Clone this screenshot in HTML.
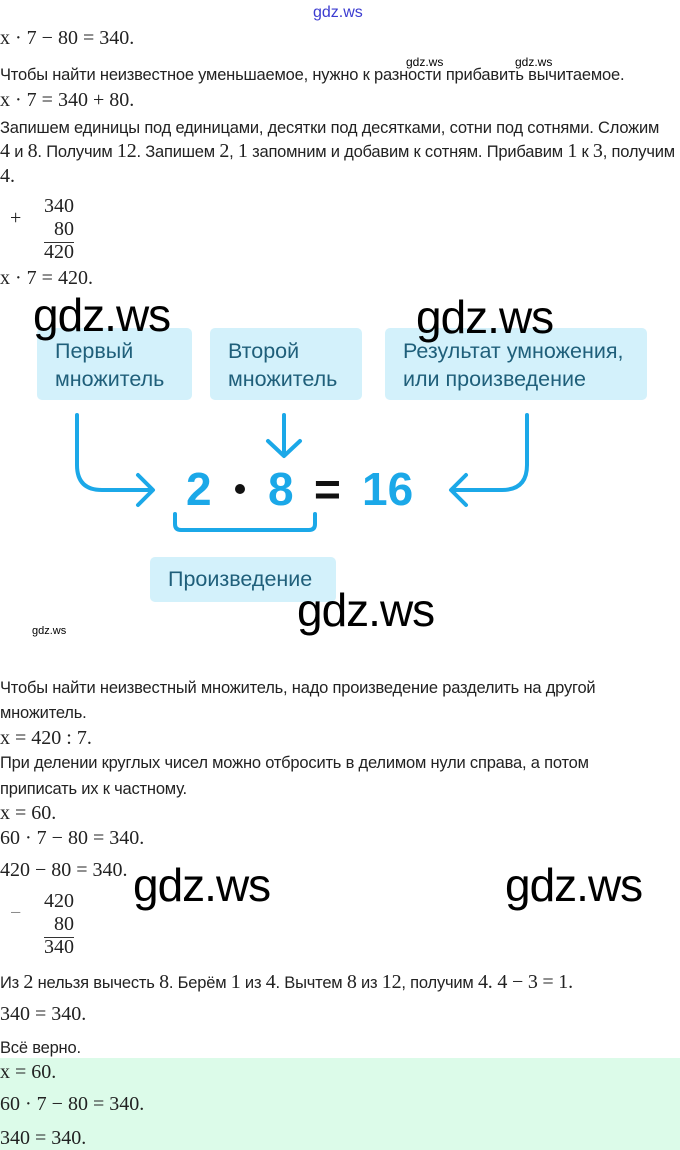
<!DOCTYPE html>
<html><head><meta charset="utf-8">
<style>
body{margin:0;width:680px;height:1150px;background:#fff;position:relative;overflow:hidden;font-family:"Liberation Sans","DejaVu Sans",sans-serif;color:#222}
.t{position:absolute;left:0;font-size:16.5px;white-space:nowrap;line-height:20px;letter-spacing:-0.2px}
.m{position:absolute;font-family:"Liberation Serif",serif;font-size:20px;white-space:nowrap;line-height:20px;color:#222}
.t .n{font-family:"Liberation Serif",serif;font-size:20px}
.w{position:absolute;font-family:"Liberation Sans",sans-serif;font-size:46px;color:#000;line-height:50px;letter-spacing:-1px;z-index:5}
.s{position:absolute;font-size:12px;color:#000;line-height:14px;z-index:5}
.box{position:absolute;background:#d3f1fb;border-radius:5px;color:#1f5f7a;font-size:21.5px;line-height:28px;padding:0 0 0 18px;box-sizing:border-box;white-space:nowrap}
.green{position:absolute;left:0;top:1058px;width:680px;height:92px;background:#dcfbe9}
</style></head><body>
<div class="green"></div>
<div class="s" style="left:313px;top:4px;font-size:16px;color:#3b3bd0;line-height:18px">gdz.ws</div>
<div class="m" style="left:0;top:28px">x · 7 − 80 = 340.</div>
<div class="s" style="left:406px;top:55px">gdz.ws</div>
<div class="s" style="left:515px;top:55px">gdz.ws</div>
<div class="t" style="top:65px">Чтобы найти неизвестное уменьшаемое, нужно к разности прибавить вычитаемое.</div>
<div class="m" style="left:0;top:90px">x · 7 = 340 + 80.</div>
<div class="t" style="top:118px">Запишем единицы под единицами, десятки под десятками, сотни под сотнями. Сложим</div>
<div class="t" style="top:141px"><span class="n">4</span> и <span class="n">8</span>. Получим <span class="n">12</span>. Запишем <span class="n">2</span>, <span class="n">1</span> запомним и добавим к сотням. Прибавим <span class="n">1</span> к <span class="n">3</span>, получим</div>
<div class="m" style="left:0;top:166px">4.</div>
<div class="m" style="left:10px;top:208px">+</div>
<div class="m" style="left:44px;top:196px">340</div>
<div class="m" style="left:54px;top:219px">80</div>
<div style="position:absolute;left:44px;top:242px;width:30px;height:1px;background:#333"></div>
<div class="m" style="left:44px;top:242px">420</div>
<div class="m" style="left:0;top:268px">x · 7 = 420.</div>

<div class="box" style="left:37px;top:328px;width:155px;height:72px;padding-top:9px">Первый<br>множитель</div>
<div class="box" style="left:210px;top:328px;width:152px;height:72px;padding-top:9px">Второй<br>множитель</div>
<div class="box" style="left:385px;top:328px;width:262px;height:72px;padding-top:9px">Результат умножения,<br>или произведение</div>

<div class="w" style="left:33px;top:290px">gdz.ws</div>
<div class="w" style="left:416px;top:292px">gdz.ws</div>

<svg style="position:absolute;left:0;top:0" width="680" height="650">
<g fill="none" stroke="#1ba8e8" stroke-width="4" stroke-linecap="round" stroke-linejoin="round">
<path d="M77 415 V465 Q77 490 102 490 H152"/>
<path d="M138 475 L153 490 L138 505"/>
<path d="M284 415 V455"/>
<path d="M268 441 L284 456 L300 441"/>
<path d="M527 415 V465 Q527 490 502 490 H452"/>
<path d="M466 475 L451 490 L466 505"/>
<path d="M175 514 V524 Q175 530 181 530 H309 Q315 530 315 524 V514"/>
</g>
<circle cx="240" cy="489" r="5" fill="#111"/>
<g font-family="Liberation Sans, sans-serif" font-weight="bold" font-size="46" fill="#1ba8e8">
<text x="186" y="505">2</text>
<text x="268" y="505">8</text>
<text x="362" y="505">16</text>
</g>
<text x="314" y="505" font-family="Liberation Sans, sans-serif" font-weight="bold" font-size="46" fill="#111">=</text>
</svg>

<div class="box" style="left:150px;top:557px;width:186px;height:45px;padding-top:8px">Произведение</div>
<div class="w" style="left:297px;top:585px">gdz.ws</div>
<div class="s" style="left:32px;top:624px;font-size:11px">gdz.ws</div>

<div class="t" style="top:678px">Чтобы найти неизвестный множитель, надо произведение разделить на другой</div>
<div class="t" style="top:703px">множитель.</div>
<div class="m" style="left:0;top:728px">x = 420 : 7.</div>
<div class="t" style="top:753px">При делении круглых чисел можно отбросить в делимом нули справа, а потом</div>
<div class="t" style="top:779px">приписать их к частному.</div>
<div class="m" style="left:0;top:803px">x = 60.</div>
<div class="m" style="left:0;top:828px">60 · 7 − 80 = 340.</div>
<div class="m" style="left:0;top:860px">420 − 80 = 340.</div>
<div class="w" style="left:133px;top:860px">gdz.ws</div>
<div class="w" style="left:505px;top:860px">gdz.ws</div>
<div class="m" style="left:10px;top:903px;color:#888">−</div>
<div class="m" style="left:44px;top:891px">420</div>
<div class="m" style="left:54px;top:914px">80</div>
<div style="position:absolute;left:44px;top:937px;width:30px;height:1px;background:#333"></div>
<div class="m" style="left:44px;top:937px">340</div>
<div class="t" style="top:972px">Из <span class="n">2</span> нельзя вычесть <span class="n">8</span>. Берём <span class="n">1</span> из <span class="n">4</span>. Вычтем <span class="n">8</span> из <span class="n">12</span>, получим <span class="n">4. 4 − 3 = 1.</span></div>
<div class="m" style="left:0;top:1004px">340 = 340.</div>
<div class="t" style="top:1038px">Всё верно.</div>
<div class="m" style="left:0;top:1062px">x = 60.</div>
<div class="m" style="left:0;top:1094px">60 · 7 − 80 = 340.</div>
<div class="m" style="left:0;top:1128px">340 = 340.</div>
</body></html>
